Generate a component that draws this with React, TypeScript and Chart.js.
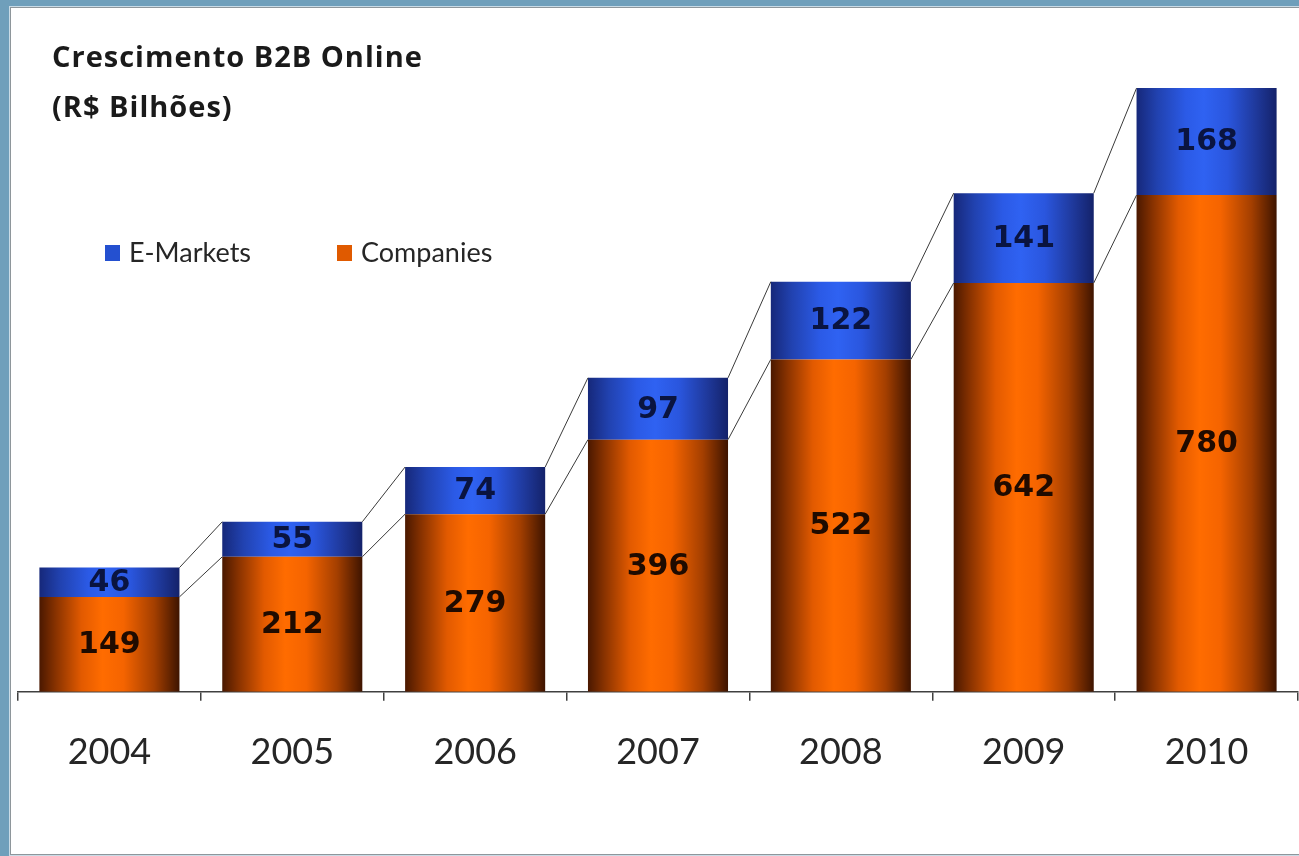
import React, { useEffect, useRef } from "react";
import { Chart, registerables } from "chart.js";

Chart.register(...registerables);

const categories = ["2004", "2005", "2006", "2007", "2008", "2009", "2010"];
const companies = [149, 212, 279, 396, 522, 642, 780];
const eMarkets = [46, 55, 74, 97, 122, 141, 168];
const titleLines = ["Crescimento B2B Online", "(R$ Bilhões)"];
const seriesNames = { companies: "Companies", eMarkets: "E-Markets" };

const BAR_PCT = 0.766;
const CANVAS_W = 1286;
const CANVAS_H = 843;

const ORANGE_STOPS: [number, string][] = [
  [0, "#4a1800"],
  [0.12, "#8a3300"],
  [0.3, "#e25a00"],
  [0.45, "#ff6c00"],
  [0.6, "#f56400"],
  [0.82, "#a43f00"],
  [1, "#3e1400"],
];
const BLUE_STOPS: [number, string][] = [
  [0, "#16287a"],
  [0.15, "#2142b0"],
  [0.35, "#2b5ae6"],
  [0.48, "#2f62f2"],
  [0.65, "#2a56de"],
  [0.85, "#1f399c"],
  [1, "#14226a"],
];

function barGradient(ctx: any, stops: [number, string][]) {
  const chart = ctx.chart;
  const xs = chart.scales && chart.scales.x;
  if (!chart.chartArea || !xs) return stops[3][1];
  const cx = xs.getPixelForValue(ctx.dataIndex);
  const half = (xs.width / categories.length) * BAR_PCT / 2;
  const g = chart.ctx.createLinearGradient(cx - half, 0, cx + half, 0);
  stops.forEach(([o, c]) => g.addColorStop(o, c));
  return g;
}

const decorPlugin = {
  id: "decor",
  afterDatasetsDraw(chart: any) {
    const ctx = chart.ctx;
    // series lines
    ctx.save();
    ctx.strokeStyle = "#3a3a3a";
    ctx.lineWidth = 1;
    chart.data.datasets.forEach((_: any, di: number) => {
      const meta = chart.getDatasetMeta(di);
      for (let i = 0; i < meta.data.length - 1; i++) {
        const a = meta.data[i];
        const b = meta.data[i + 1];
        ctx.beginPath();
        ctx.moveTo(a.x + a.width / 2, a.y);
        ctx.lineTo(b.x - b.width / 2, b.y);
        ctx.stroke();
      }
    });
    ctx.restore();
    // data labels
    ctx.save();
    ctx.font = "bold 30px 'DejaVu Sans'";
    ctx.textAlign = "center";
    ctx.textBaseline = "middle";
    chart.data.datasets.forEach((ds: any, di: number) => {
      const meta = chart.getDatasetMeta(di);
      ctx.fillStyle = ds.labelColor;
      meta.data.forEach((el: any, i: number) => {
        const y = (el.y + el.base) / 2;
        ctx.fillText(String(ds.data[i]), el.x, y + 1);
      });
    });
    ctx.restore();
  },
  afterDraw(chart: any) {
    const ctx = chart.ctx;
    // title
    ctx.save();
    ctx.fillStyle = "#1a1a1a";
    ctx.font = "bold 29px 'Open Sans'";
    (ctx as any).letterSpacing = "1px";
    ctx.textAlign = "left";
    ctx.textBaseline = "alphabetic";
    titleLines.forEach((t, i) => ctx.fillText(t, 39, 57 + i * 50));
    ctx.restore();
    // legend (reverse dataset order)
    ctx.save();
    ctx.font = "27px Lato";
    ctx.textBaseline = "middle";
    ctx.textAlign = "left";
    const items = [...chart.data.datasets].reverse();
    items.forEach((ds: any, i: number) => {
      const x = 92 + i * 232;
      const y = 243;
      ctx.fillStyle = ds.legendColor;
      ctx.fillRect(x, y - 8, 15, 16);
      ctx.fillStyle = "#262626";
      ctx.fillText(ds.label, x + 24, y);
    });
    ctx.restore();
  },
};

export default function App() {
  const ref = useRef<HTMLCanvasElement>(null);
  useEffect(() => {
    if (!ref.current) return;
    const chart = new Chart(ref.current, {
      type: "bar",
      data: {
        labels: categories,
        datasets: [
          {
            label: seriesNames.companies,
            data: companies,
            backgroundColor: (c: any) => barGradient(c, ORANGE_STOPS),
            borderWidth: 0,
            barPercentage: BAR_PCT,
            categoryPercentage: 1,
            labelColor: "#1f0b00",
            legendColor: "#e05a00",
          } as any,
          {
            label: seriesNames.eMarkets,
            data: eMarkets,
            backgroundColor: (c: any) => barGradient(c, BLUE_STOPS),
            borderWidth: 0,
            barPercentage: BAR_PCT,
            categoryPercentage: 1,
            labelColor: "#0a1440",
            legendColor: "#2450d0",
          } as any,
        ],
      },
      options: {
        responsive: false,
        animation: false,
        layout: { padding: { left: 5, right: 1, top: 45, bottom: 49 } },
        plugins: {
          legend: { display: false },
          title: { display: false },
          tooltip: { enabled: false },
        },
        scales: {
          x: {
            stacked: true,
            grid: {
              display: true,
              drawOnChartArea: false,
              drawTicks: true,
              tickLength: 9,
              color: "#404040",
              lineWidth: 1.5,
              offset: true,
            },
            border: { display: true, color: "#404040", width: 1.5 },
            ticks: {
              color: "#262626",
              font: { family: "Lato", size: 36 },
              padding: 30,
              maxRotation: 0,
            },
          },
          y: {
            stacked: true,
            display: false,
            min: 0,
            max: 1000,
          },
        },
      },
      plugins: [decorPlugin],
    });
    return () => chart.destroy();
  }, []);

  return (
    <div
      style={{
        position: "fixed",
        left: 0,
        top: 0,
        width: 1299,
        height: 856,
        background: "#6f9fbb",
        overflow: "hidden",
      }}
    >
      <div
        style={{
          position: "absolute",
          left: 10,
          top: 7,
          width: 1300,
          height: 846,
          background: "#ffffff",
          border: "1px solid #8e969b",
          boxShadow: "0 0 0 1px #c9dbe6",
        }}
      />
      <canvas
        ref={ref}
        width={CANVAS_W}
        height={CANVAS_H}
        style={{ position: "absolute", left: 13, top: 10, width: CANVAS_W, height: CANVAS_H }}
      />
    </div>
  );
}
